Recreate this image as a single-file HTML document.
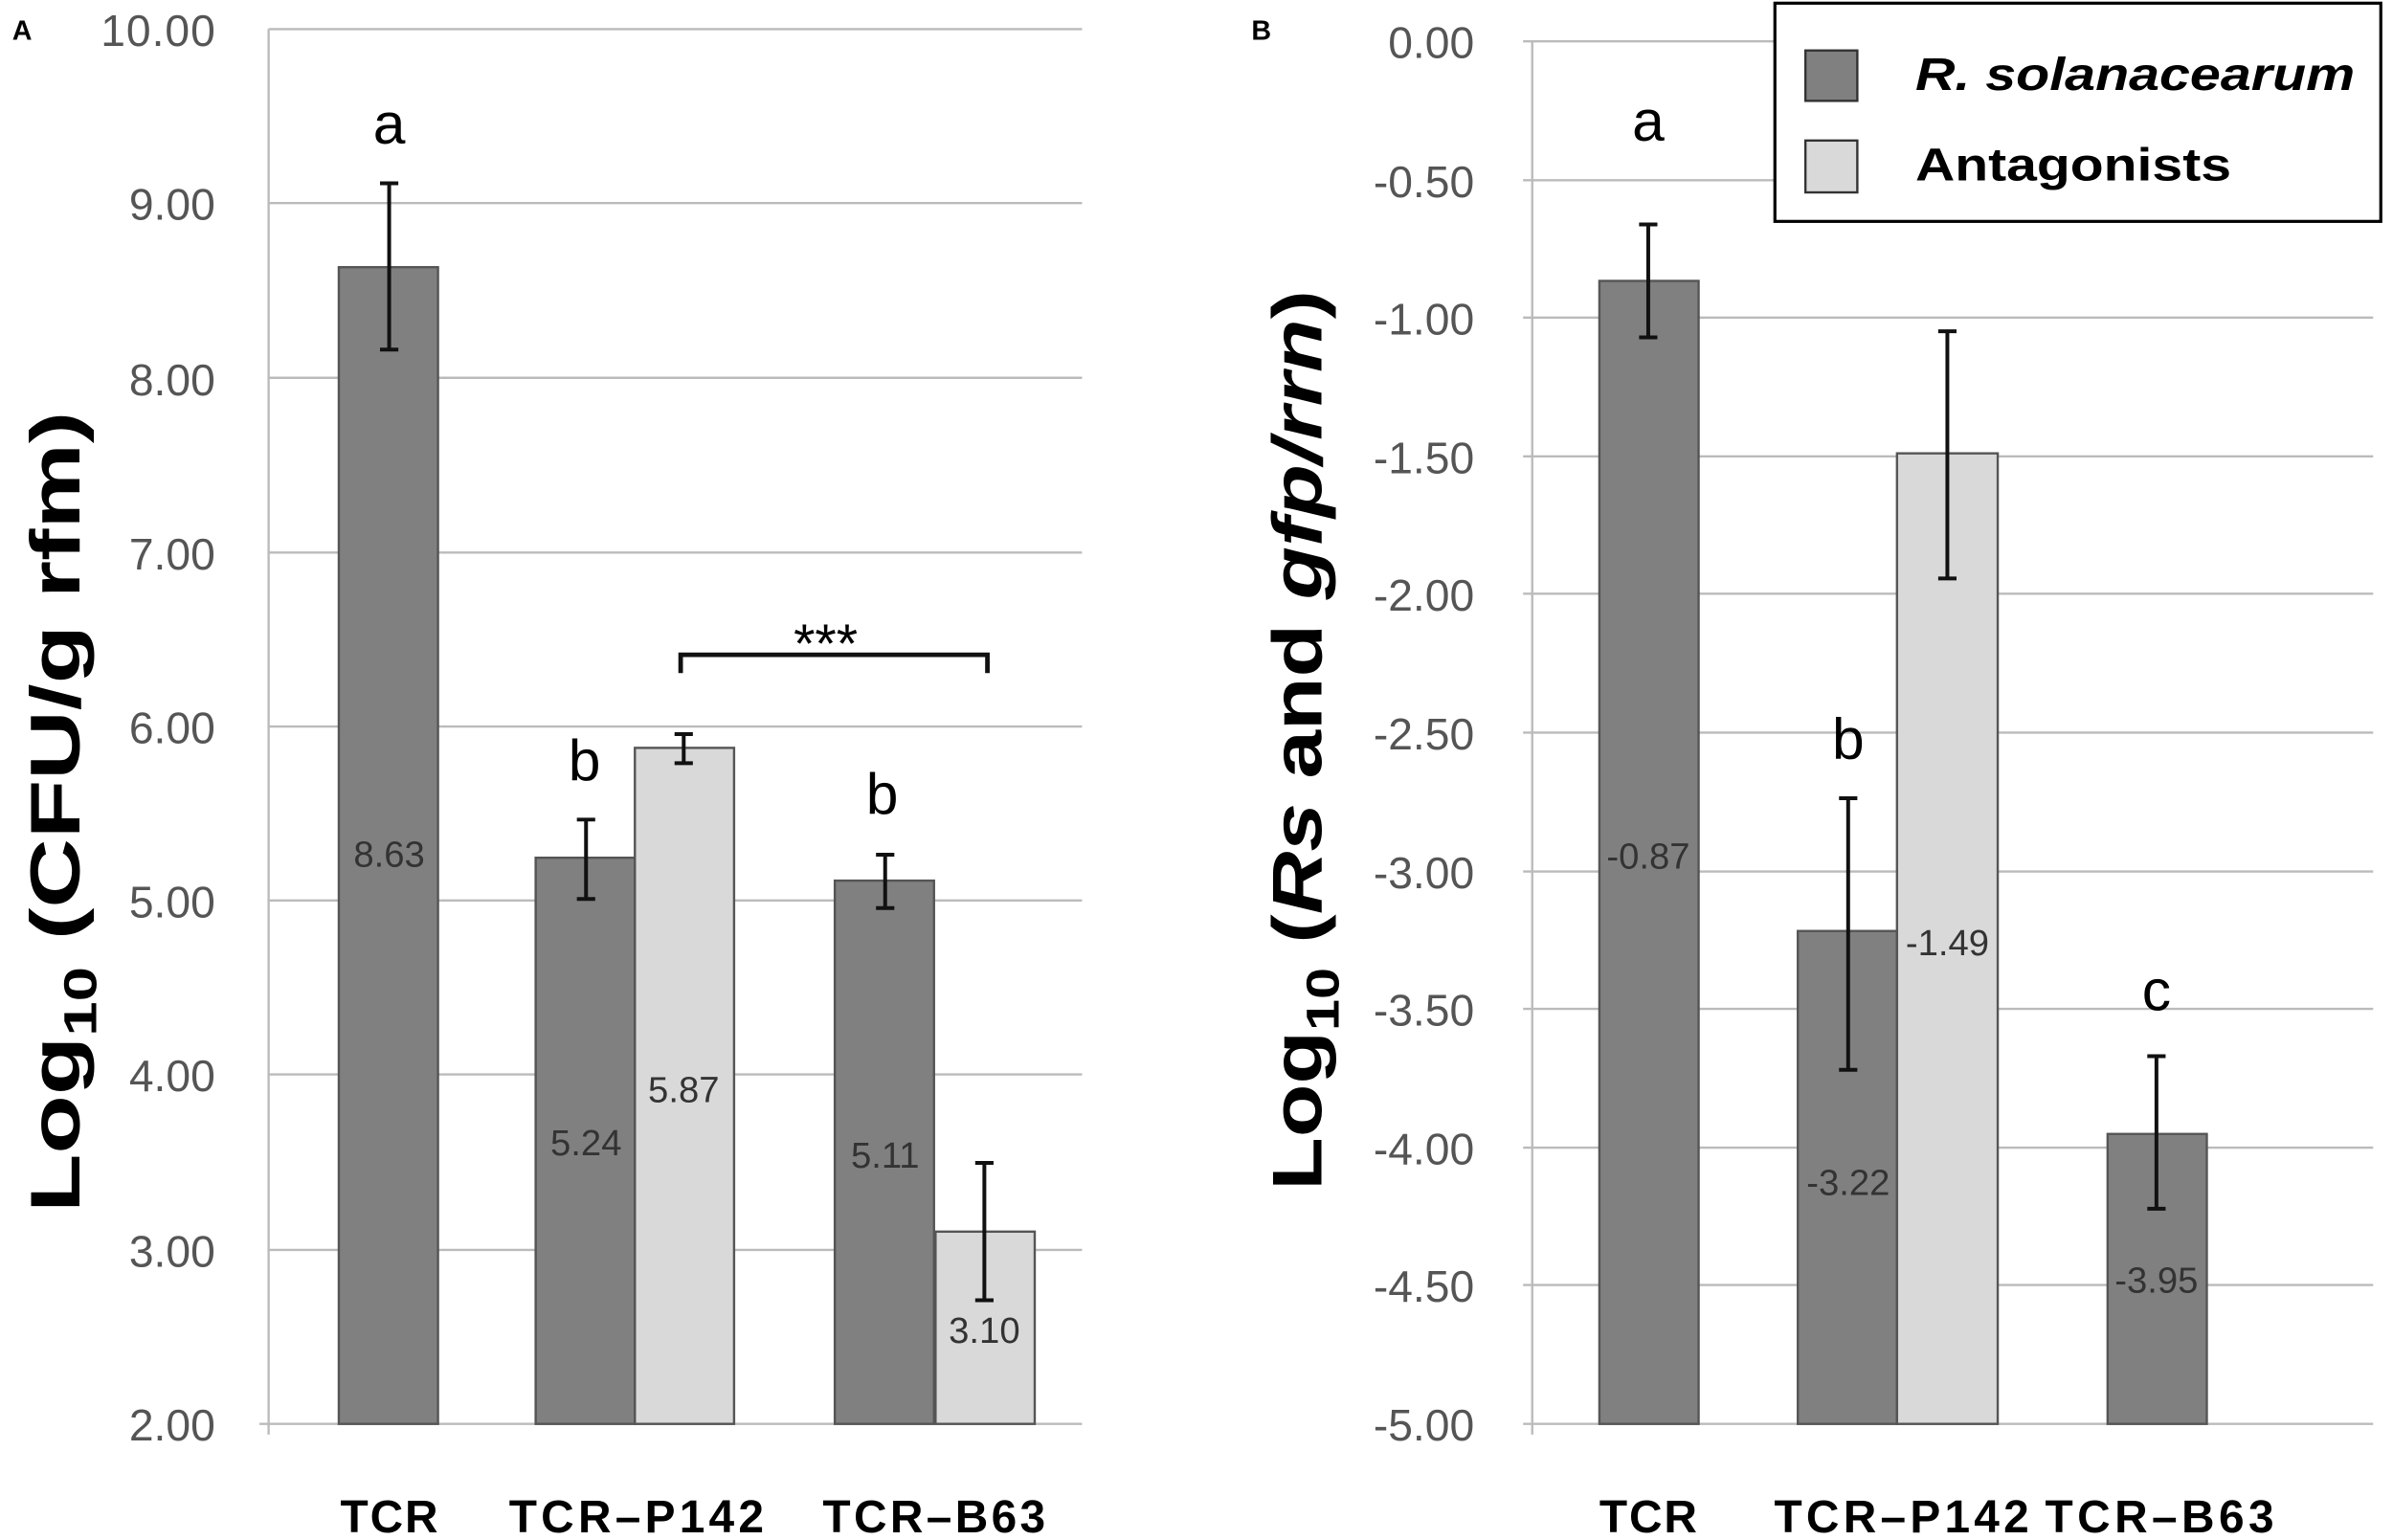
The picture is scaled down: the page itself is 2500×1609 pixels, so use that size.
<!DOCTYPE html>
<html><head><style>html,body{margin:0;padding:0;background:#fff}svg{display:block}</style></head>
<body>
<svg width="2500" height="1609" viewBox="0 0 1568 1009" xmlns="http://www.w3.org/2000/svg" font-family="Liberation Sans, sans-serif">
<rect width="1568" height="1009" fill="#fff"/>
<!-- Panel A -->
<text x="8" y="26" font-size="18" font-weight="bold">A</text>
<g stroke="#bbb" stroke-width="1.5">
<line x1="176" y1="19" x2="709" y2="19"/><line x1="176" y1="133" x2="709" y2="133"/>
<line x1="176" y1="247.5" x2="709" y2="247.5"/><line x1="176" y1="362" x2="709" y2="362"/>
<line x1="176" y1="476" x2="709" y2="476"/><line x1="176" y1="590" x2="709" y2="590"/>
<line x1="176" y1="704" x2="709" y2="704"/><line x1="176" y1="819" x2="709" y2="819"/>
<line x1="170" y1="933" x2="709" y2="933"/><line x1="176" y1="19" x2="176" y2="940"/>
</g>
<g font-size="29" fill="#555" text-anchor="end">
<text x="141" y="30" textLength="75">10.00</text><text x="141" y="144">9.00</text><text x="141" y="259">8.00</text>
<text x="141" y="373">7.00</text><text x="141" y="487">6.00</text><text x="141" y="601">5.00</text>
<text x="141" y="715">4.00</text><text x="141" y="830">3.00</text><text x="141" y="944">2.00</text>
</g>
<g stroke="#555" stroke-width="1.5">
<rect x="222" y="175" width="65" height="758" fill="#808080"/>
<rect x="351" y="562" width="65" height="371" fill="#808080"/>
<rect x="416" y="490" width="65" height="443" fill="#d9d9d9"/>
<rect x="547" y="577" width="65" height="356" fill="#808080"/>
<rect x="613" y="807" width="65" height="126" fill="#d9d9d9"/>
</g>
<g stroke="#111" stroke-width="2.5" fill="none">
<path d="M255 120V229M249 120h12M249 229h12"/>
<path d="M384 537V589M378 537h12M378 589h12"/>
<path d="M448 481V500M442 481h12M442 500h12"/>
<path d="M580 560V595M574 560h12M574 595h12"/>
<path d="M645 762V852M639 762h12M639 852h12"/>
<path d="M446 441V429H647V441" stroke-width="3"/>
</g>
<g font-size="24" fill="#333" text-anchor="middle">
<text x="255" y="568">8.63</text><text x="384" y="757">5.24</text><text x="448" y="722">5.87</text>
<text x="580" y="765">5.11</text><text x="645" y="880">3.10</text>
</g>
<g font-size="38" text-anchor="middle">
<text x="255" y="94">a</text><text x="383" y="511">b</text><text x="578" y="533">b</text>
<text x="541" y="434" font-size="36">***</text>
</g>
<g font-size="30" font-weight="bold" text-anchor="middle">
<text x="255" y="1004" textLength="64">TCR</text><text x="417" y="1004" textLength="167">TCR–P142</text><text x="612" y="1004" textLength="146">TCR–B63</text>
</g>
<text transform="translate(52,532) rotate(-90)" text-anchor="middle" font-size="46" font-weight="bold" textLength="525" lengthAdjust="spacingAndGlyphs">Log<tspan font-size="30" dy="11">10</tspan><tspan dy="-11"> (CFU/g rfm)</tspan></text>
<!-- Panel B -->
<text x="820" y="26" font-size="18" font-weight="bold">B</text>
<g stroke="#bbb" stroke-width="1.5">
<line x1="998" y1="27" x2="1555" y2="27"/><line x1="998" y1="118" x2="1555" y2="118"/>
<line x1="998" y1="208" x2="1555" y2="208"/><line x1="998" y1="299" x2="1555" y2="299"/>
<line x1="998" y1="389" x2="1555" y2="389"/><line x1="998" y1="480" x2="1555" y2="480"/>
<line x1="998" y1="571" x2="1555" y2="571"/><line x1="998" y1="661" x2="1555" y2="661"/>
<line x1="998" y1="752" x2="1555" y2="752"/><line x1="998" y1="842" x2="1555" y2="842"/>
<line x1="998" y1="933" x2="1555" y2="933"/><line x1="1004" y1="27" x2="1004" y2="940"/>
</g>
<g font-size="29" fill="#555" text-anchor="end">
<text x="966" y="38">0.00</text><text x="966" y="129">-0.50</text><text x="966" y="219">-1.00</text>
<text x="966" y="310">-1.50</text><text x="966" y="400">-2.00</text><text x="966" y="491">-2.50</text>
<text x="966" y="582">-3.00</text><text x="966" y="672">-3.50</text><text x="966" y="763">-4.00</text>
<text x="966" y="853">-4.50</text><text x="966" y="944">-5.00</text>
</g>
<g stroke="#555" stroke-width="1.5">
<rect x="1048" y="184" width="65" height="749" fill="#808080"/>
<rect x="1178" y="610" width="65" height="323" fill="#808080"/>
<rect x="1243" y="297" width="66" height="636" fill="#d9d9d9"/>
<rect x="1381" y="743" width="65" height="190" fill="#808080"/>
</g>
<g stroke="#111" stroke-width="2.5" fill="none">
<path d="M1080 147V221M1074 147h12M1074 221h12"/>
<path d="M1211 523V701M1205 523h12M1205 701h12"/>
<path d="M1276 217V379M1270 217h12M1270 379h12"/>
<path d="M1413 692V792M1407 692h12M1407 792h12"/>
</g>
<g font-size="24" fill="#333" text-anchor="middle">
<text x="1080" y="569">-0.87</text><text x="1211" y="783">-3.22</text>
<text x="1276" y="626">-1.49</text><text x="1413" y="847">-3.95</text>
</g>
<g font-size="38" text-anchor="middle">
<text x="1080" y="92">a</text><text x="1211" y="497">b</text><text x="1413" y="662">c</text>
</g>
<g font-size="30" font-weight="bold" text-anchor="middle">
<text x="1080" y="1004" textLength="64">TCR</text><text x="1246" y="1004" textLength="167">TCR–P142</text><text x="1415" y="1004" textLength="150">TCR–B63</text>
</g>
<text transform="translate(866,485) rotate(-90)" text-anchor="middle" font-size="46" font-weight="bold" textLength="590" lengthAdjust="spacingAndGlyphs">Log<tspan font-size="30" dy="11">10</tspan><tspan dy="-11"> (</tspan><tspan font-style="italic">Rs</tspan><tspan> and </tspan><tspan font-style="italic">gfp/rrn</tspan><tspan>)</tspan></text>
<rect x="1163" y="2" width="397" height="143" fill="#fff" stroke="#000" stroke-width="2"/>
<rect x="1183" y="33" width="34" height="33" fill="#808080" stroke="#333" stroke-width="1.5"/>
<rect x="1183" y="92" width="34" height="34" fill="#d9d9d9" stroke="#333" stroke-width="1.5"/>
<text x="1255" y="59" font-size="30" font-weight="bold" font-style="italic" textLength="288" lengthAdjust="spacingAndGlyphs">R. solanacearum</text>
<text x="1255" y="118" font-size="30" font-weight="bold" textLength="207" lengthAdjust="spacingAndGlyphs">Antagonists</text>
</svg>
</body></html>
